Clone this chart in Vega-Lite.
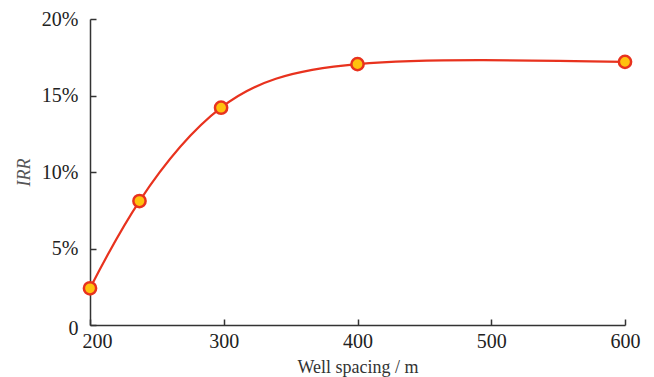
{
  "$schema": "https://vega.github.io/schema/vega-lite/v6.json",
  "width": 535,
  "height": 306,
  "autosize": {"type": "none"},
  "padding": {"left": 90, "top": 19, "right": 29, "bottom": 52},
  "background": "white",
  "config": {
    "view": {"stroke": null},
    "font": "Liberation Serif",
    "axis": {
      "grid": false,
      "domainColor": "#333333",
      "domainWidth": 1.5,
      "tickColor": "#333333",
      "tickWidth": 1.5,
      "tickSize": -6,
      "labelFlush": false,
      "labelFont": "Liberation Serif",
      "labelFontSize": 20,
      "labelColor": "#222222",
      "titleFont": "Liberation Serif",
      "titleFontWeight": "normal",
      "titleColor": "#333333"
    }
  },
  "data": {
    "values": [
      {"spacing": 200, "irr": 2.4},
      {"spacing": 237, "irr": 8.1},
      {"spacing": 298, "irr": 14.2},
      {"spacing": 400, "irr": 17.05},
      {"spacing": 600, "irr": 17.2}
    ]
  },
  "encoding": {
    "x": {
      "field": "spacing",
      "type": "quantitative",
      "scale": {"domain": [200, 600], "nice": false, "zero": false},
      "axis": {
        "values": [200, 300, 400, 500, 600],
        "title": "Well spacing / m",
        "titleFontSize": 18,
        "titlePadding": 7,
        "labelPadding": 12,
        "labelOffset": {"condition": {"test": "datum.value == 200", "value": 7}, "value": 0}
      }
    },
    "y": {
      "field": "irr",
      "type": "quantitative",
      "scale": {"domain": [0, 20], "nice": false},
      "axis": {
        "values": [0, 5, 10, 15, 20],
        "labelExpr": "datum.value == 0 ? '0' : datum.value + '%'",
        "labelOffset": {"condition": {"test": "datum.value == 0", "value": 3}, "value": 0},
        "title": "IRR",
        "titleFontStyle": "italic",
        "titleFontSize": 18,
        "titleColor": "#555555",
        "titlePadding": 8,
        "labelPadding": 18
      }
    }
  },
  "layer": [
    {
      "mark": {"type": "line", "interpolate": "natural", "color": "#e8321e", "strokeWidth": 2.2}
    },
    {
      "mark": {"type": "point", "filled": true, "fill": "#ffc20e", "stroke": "#e8321e", "strokeWidth": 2.5, "size": 150, "opacity": 1}
    }
  ]
}
